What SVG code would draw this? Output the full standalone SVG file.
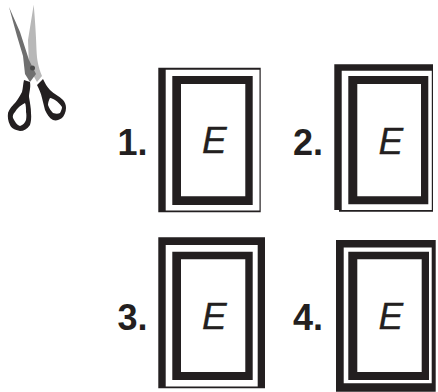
<svg xmlns="http://www.w3.org/2000/svg" width="438" height="392" viewBox="0 0 438 392">
<style>
.k{fill:#231f20}
.n{font-family:"Liberation Sans",Arial,sans-serif;font-weight:700;font-size:36px;fill:#231f20}
.e{font-family:"Liberation Sans",Arial,sans-serif;font-style:italic;font-size:37px;fill:#231f20;stroke:#231f20;stroke-width:.3px}
</style>
<rect width="438" height="392" fill="#fff"/>
<g id="scissors">
<path d="M33.700 4.700C35 20 36 34 36.500 50C37 60 38 66 42 76L37 82L29 68L28 40Z" fill="#b8b8b8"/>
<path d="M9 7L20 32L29 60L32 66L36 74L30 82L25 74L23 56L17 36Z" fill="#6f6f6f"/>
<circle cx="32.500" cy="68" r="2.500" fill="#4a4a4a"/>
<path fill-rule="evenodd" class="k" d="M24 80L30 82C31 88 29 92 29 97C30 103 31 108 31 113C31.500 118 31 122 30 125C27 129 24 131 20 131C15 130 11 128 10 125C8 121 7.500 117 8 113C10 108 12 106 15 103C18 99 20 96 22 92C23 88 23 84 24 80ZM25 103C21 105 17 108 15 112C13 114 12.500 116 13 118C15 122 17 125 20 126C23 125 25 123 26 120C26.500 117 26.500 114 26 112C26 109 26 105 25 103Z"/>
<path fill-rule="evenodd" class="k" d="M43 79C45 83 47 87 50 90C54 94 59 96 63 100C65 102 66 105 66 108C66 112 64 116 62 118C59 120 56 121 53 120C49 118 47 114 45 110C44 106 43 102 42 98C41 93 39 89 37 85ZM50 98C49 100 48 102 48 105C49 108 51 111 53 113C56 114 58 114 60 113C61 111 62 109 62 107C60 104 58 102 55 100C53 99 52 98 50 98Z"/>
</g>
<g id="option-1">
<text class="n" x="117.500" y="155">1.</text>
<path class="k" fill-rule="evenodd" d="M158.300 67.700H260.700V212.300H158.300ZM165.700 69.700V210.500H259.500V69.700Z"/>
<path class="k" fill-rule="evenodd" d="M172.300 76H252.700V205H172.300ZM181 84V196.300H245.300V84Z"/>
<text class="e" x="202" y="153.300">E</text>
</g>
<g id="option-2">
<text class="n" x="293" y="155">2.</text>
<path class="k" fill-rule="evenodd" d="M334.300 64.300H433V211.700H339V210H334.300ZM341.700 70.700V210H431.800V70.700Z"/>
<path class="k" fill-rule="evenodd" d="M348.300 76H428.300V204.300H348.300ZM357.300 84V196.300H421V84Z"/>
<text class="e" x="378.500" y="153.700">E</text>
</g>
<g id="option-3">
<text class="n" x="117.500" y="330">3.</text>
<path class="k" fill-rule="evenodd" d="M158.300 237.300H265V388.300H158.300ZM165.700 245V386.600H257.700V245Z"/>
<path class="k" fill-rule="evenodd" d="M172.300 251.700H252.700V380H172.300ZM181 259.300V372H245.300V259.300Z"/>
<text class="e" x="202" y="329.300">E</text>
</g>
<g id="option-4">
<text class="n" x="293" y="330">4.</text>
<path class="k" fill-rule="evenodd" d="M336 240H435.700V391.700H336ZM343.700 247.500V383.300H431.700V247.500Z"/>
<path class="k" fill-rule="evenodd" d="M348.300 251.700H429V380H348.300ZM357.300 259.300V372H421.700V259.300Z"/>
<text class="e" x="378.500" y="329.300">E</text>
</g>
</svg>
